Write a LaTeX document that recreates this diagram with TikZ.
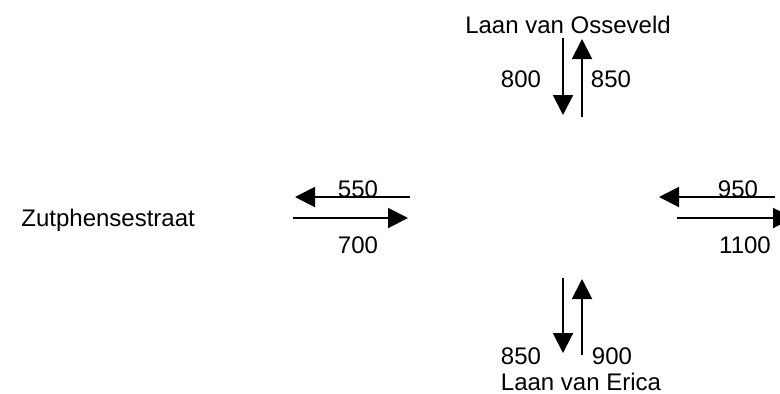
\documentclass[tikz,border=0pt]{standalone}
\usepackage{fontspec}
\setmainfont{Liberation Sans}
\usetikzlibrary{arrows.meta}
\begin{document}
\begin{tikzpicture}[x=0.5pt,y=-0.5pt,
  flow/.style={line width=1pt,-{Triangle[length=10pt,width=10pt]}},
  lbl/.style={inner sep=0pt,anchor=base,font=\fontsize{12pt}{14pt}\selectfont}]
\useasboundingbox (0,0) rectangle (780,393);
\clip (0,0) rectangle (780,393);

% street names
\node[lbl] (nOss) at (568,33) {Laan van Osseveld};
\node[lbl,anchor=base west] (nZut) at (21,226) {Zutphensestraat};
\node[lbl] (nEri) at (581,390) {Laan van Erica};

% north approach
\coordinate (n1a) at (563,38);  \coordinate (n1b) at (563,115);
\coordinate (n2a) at (582,117); \coordinate (n2b) at (582,39);
\draw[flow] (n1a) -- (n1b);
\draw[flow] (n2a) -- (n2b);
\node[lbl] (v800) at (521,87) {800};
\node[lbl] (v850n) at (611,87) {850};

% west approach
\coordinate (w1a) at (410,197); \coordinate (w1b) at (295,197);
\coordinate (w2a) at (293,218); \coordinate (w2b) at (408,218);
\draw[flow] (w1a) -- (w1b);
\draw[flow] (w2a) -- (w2b);
\node[lbl] (v550) at (358,197) {550};
\node[lbl] (v700) at (358,253) {700};

% east approach
\coordinate (e1a) at (775,197); \coordinate (e1b) at (659,197);
\coordinate (e2a) at (677,218); \coordinate (e2b) at (793,218);
\draw[flow] (e1a) -- (e1b);
\draw[flow] (e2a) -- (e2b);
\node[lbl] (v950) at (738,197) {950};
\node[lbl] (v1100) at (745,253) {1100};

% south approach
\coordinate (s1a) at (563,278); \coordinate (s1b) at (563,353);
\coordinate (s2a) at (582,355); \coordinate (s2b) at (582,279);
\draw[flow] (s1a) -- (s1b);
\draw[flow] (s2a) -- (s2b);
\node[lbl] (v850s) at (521,364) {850};
\node[lbl] (v900) at (612,364) {900};
\end{tikzpicture}
\end{document}
